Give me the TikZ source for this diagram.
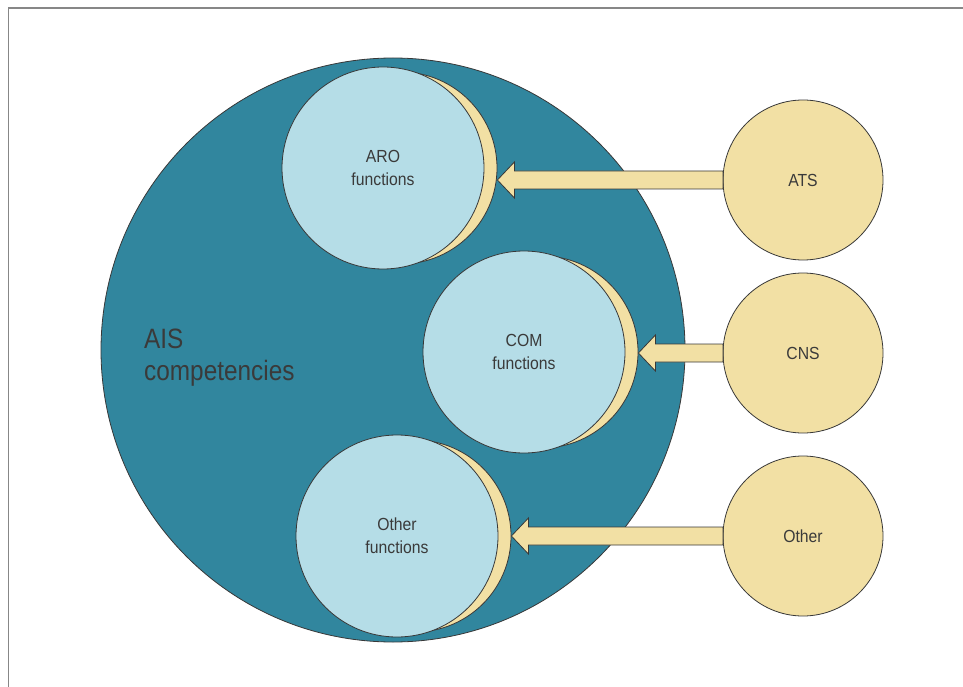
\documentclass[tikz,border=0pt]{standalone}
\usepackage{fontspec}
\usepackage{tikz}
\usetikzlibrary{positioning, calc}
\newfontfamily\diagfont{Liberation Sans}[FakeStretch=0.9]
\newfontfamily\headfont{Liberation Sans}[FakeStretch=0.87]
\definecolor{aisTeal}{RGB}{49, 134, 158}
\definecolor{aisIce}{RGB}{181, 221, 231}
\definecolor{aisSand}{RGB}{242, 224, 164}
\definecolor{aisInk}{RGB}{58, 58, 58}
\definecolor{aisEdge}{RGB}{56, 56, 56}
\definecolor{aisFrame}{RGB}{135, 135, 135}
\tikzset{
    base/.style={
        font=\diagfont\fontsize{17.5}{23}\selectfont,
        text=aisInk,
        align=center
    },
    aisdisc/.style={
        circle,
        draw=aisEdge,
        line width=0.8pt,
        fill=aisTeal,
        minimum size=584pt,
        inner sep=0pt
    },
    rim/.style={
        circle,
        draw=aisEdge,
        line width=0.8pt,
        fill=aisSand,
        minimum size=192pt,
        inner sep=0pt
    },
    func/.style={
        base,
        circle,
        draw=aisEdge,
        line width=0.8pt,
        fill=aisIce,
        minimum size=202pt,
        inner sep=0pt
    },
    agency/.style={
        base,
        circle,
        draw=aisEdge,
        line width=0.8pt,
        fill=aisSand,
        minimum size=160pt,
        inner sep=0pt
    },
    feed/.style={
        draw=aisEdge,
        line width=0.8pt,
        fill=aisSand,
        line join=miter
    },
    frame/.style={
        draw=aisFrame,
        line width=1.5pt
    }
}

\begin{document}
\begin{tikzpicture}[x=1pt, y=-1pt]
  \useasboundingbox (0,0) rectangle (963,687);
  \draw[frame] (8.5,687) -- (8.5,8) -- (963,8);

  % AIS domain
  \node[aisdisc] (ais) at (393,350) {};
  \node[base, anchor=west, align=left, inner sep=0pt,
    font=\headfont\fontsize{28}{32}\selectfont]
    (aislabel) at (144,358) {AIS\\competencies};

  % functions with their rims
  \node[rim] (arorim) at (401,168) {};
  \node[func] (aro) at (383,168) {ARO\\functions};
  \node[rim] (comrim) at (542,352) {};
  \node[func] (com) at (524,352) {COM\\functions};
  \node[rim] (othrim) at (415,536) {};
  \node[func] (oth) at (397,536) {Other\\functions};

  % outside sources
  \node[agency] (ats) at (803,180) {ATS};
  \node[agency] (cns) at (803,353) {CNS};
  \node[agency] (other) at (803,536) {Other};

  % feeds
  \foreach \src/\dst in {ats/arorim, cns/comrim, other/othrim}{
    \draw[feed] (\dst.east |- \src.center) -- ++(17,-18) -- ++(0,9)
      -- ($(\src.west)+(0.5,-9)$) -- ++(0,18)
      -- ($(\dst.east |- \src.center)+(17,9)$) -- ++(0,9) -- cycle;
  }
\end{tikzpicture}
\end{document}
